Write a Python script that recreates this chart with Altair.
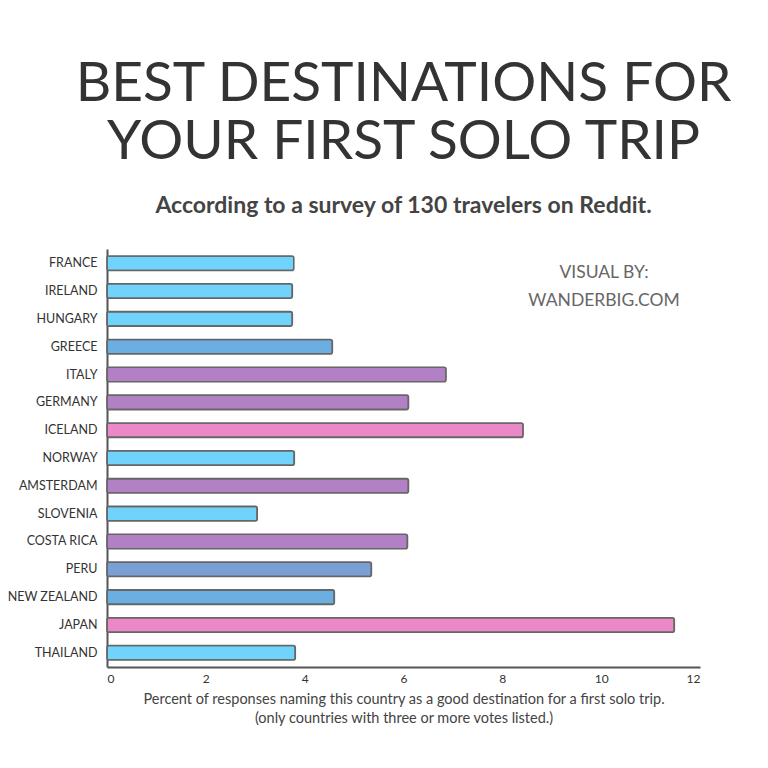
import altair as alt
import pandas as pd

countries = ["FRANCE", "IRELAND", "HUNGARY", "GREECE", "ITALY", "GERMANY", "ICELAND",
             "NORWAY", "AMSTERDAM", "SLOVENIA", "COSTA RICA", "PERU", "NEW ZEALAND",
             "JAPAN", "THAILAND"]
percent = [3.78, 3.75, 3.75, 4.56, 6.86, 6.1, 8.42, 3.79, 6.1, 3.04, 6.08, 5.35, 4.6, 11.48, 3.81]
tier = ["low", "low", "low", "mid", "high", "high", "top", "low", "high", "low", "high",
        "midhigh", "mid", "top", "low"]

tier_domain = ["low", "mid", "midhigh", "high", "top"]
tier_colors = ["#6fd3fb", "#6baee2", "#7a9fd5", "#b280c5", "#ea88c8"]

x_ticks = [0, 2, 4, 6, 8, 10, 12]

df = pd.DataFrame({"country": countries, "percent": percent, "tier": tier})

FONT = "Lato"

bars = alt.Chart(df).mark_bar(
    stroke="#666666", strokeWidth=1.6, cornerRadius=2
).encode(
    y=alt.Y("country:N", sort=countries,
            scale=alt.Scale(paddingInner=0.48, paddingOuter=0.25),
            axis=alt.Axis(title=None, ticks=False, labelFont=FONT, labelFontSize=12.5,
                          labelColor="#333333", labelPadding=10, domainColor="#555555",
                          domainWidth=2, labelLimit=200)),
    x=alt.X("percent:Q", scale=alt.Scale(domain=[0, 12]),
            axis=alt.Axis(values=x_ticks, grid=False, ticks=False, labelFont=FONT,
                          labelFontSize=12, labelColor="#333333", labelPadding=6,
                          domainColor="#555555", domainWidth=2,
                          title=["Percent of responses naming this country as a good destination for a first solo trip.",
                                 "(only countries with three or more votes listed.)"],
                          titleFont=FONT, titleFontSize=14.5, titleFontWeight="normal",
                          titleColor="#444444", titlePadding=8, titleLineHeight=19)),
    color=alt.Color("tier:N", scale=alt.Scale(domain=tier_domain, range=tier_colors), legend=None),
)

credit = alt.Chart(pd.DataFrame({"t": ["VISUAL BY:\nWANDERBIG.COM"]})).mark_text(
    font=FONT, fontSize=17.5, color="#666666", align="center", baseline="alphabetic",
    lineBreak="\n", lineHeight=28
).encode(text="t:N", x=alt.value(497), y=alt.value(29))

chart = alt.layer(bars, credit).properties(
    width=593, height=418,
    autosize=alt.AutoSizeParams(type="none"),
    padding={"left": 99, "top": 241, "right": 60, "bottom": 93},
    title=alt.TitleParams(
        text=["BEST DESTINATIONS FOR", "YOUR FIRST SOLO TRIP"],
        subtitle="According to a survey of 130 travelers on Reddit.",
        font=FONT, fontSize=55, fontWeight="normal", color="#333333", lineHeight=58,
        subtitleFont=FONT, subtitleFontSize=23, subtitleFontWeight="bold",
        subtitleColor="#444444", subtitlePadding=24, offset=30, anchor="middle"
    )
).configure_view(stroke=None)

chart.save("out.html", embed_options={"renderer": "svg", "actions": False})
